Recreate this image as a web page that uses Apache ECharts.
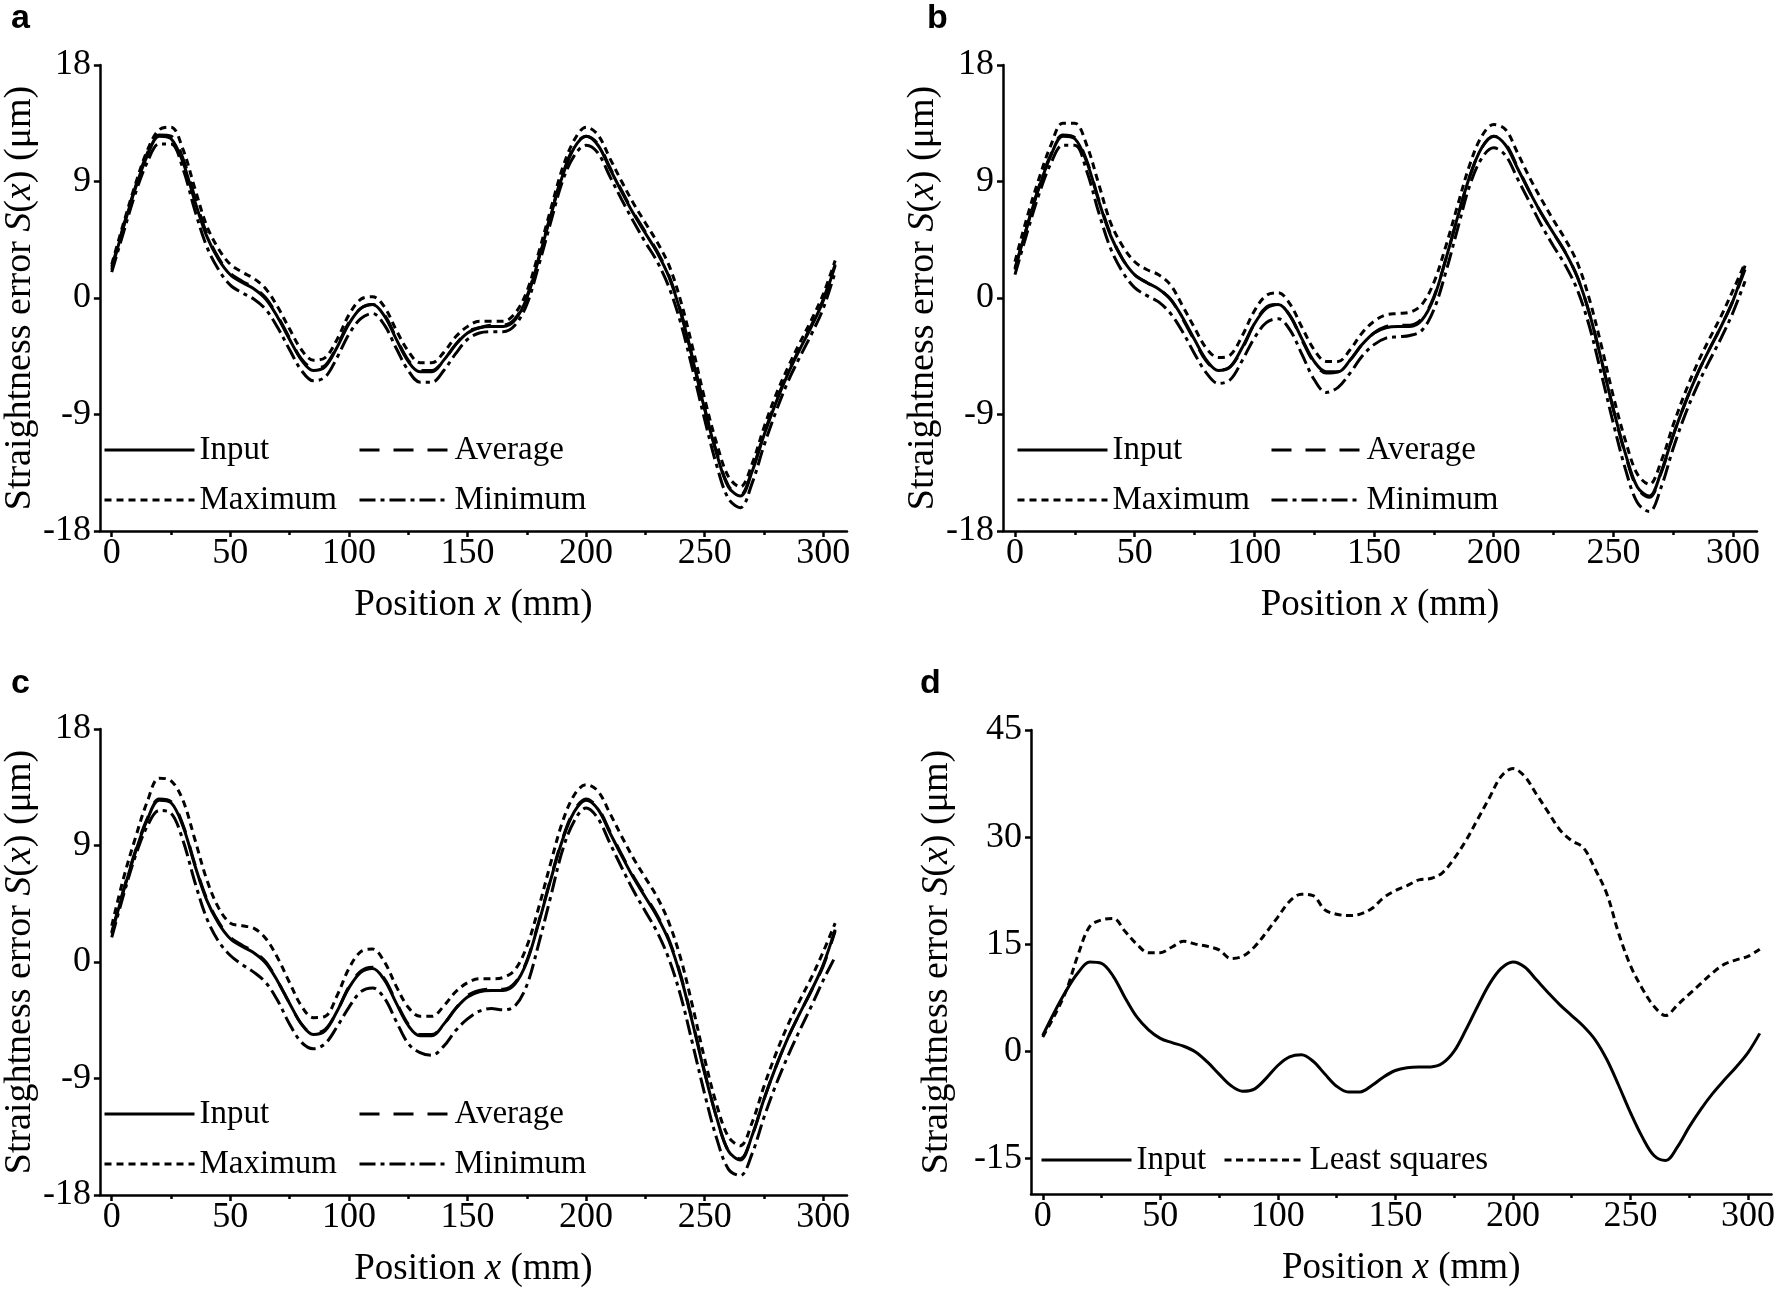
<!DOCTYPE html>
<html><head><meta charset="utf-8">
<script src="https://cdn.jsdelivr.net/npm/echarts@6/dist/echarts.min.js"></script>
<style>html,body{margin:0;padding:0;background:#fff}#c{width:1778px;height:1292px}</style>
</head><body><div id="c"></div>
<script>
// ---------------- data ----------------
const X_MM = [0,5,10,15,20,25,30,35,40,45,50,55,60,65,70,75,80,85,90,95,100,105,110,115,120,125,130,135,140,145,150,155,160,165,170,175,180,185,190,195,200,205,210,215,220,225,230,235,240,245,250,255,260,265,270,275,280,285,290,295,300,305];

const INPUT = [2.2,5.5,8.5,11.0,12.5,12.3,10.5,7.5,4.8,3.0, 1.8,1.2,0.7,-0.1,-1.5,-3.2,-4.8,-5.6,-5.3,-3.8, -2.0,-0.8,-0.5,-1.4,-3.2,-4.9,-5.7,-5.7,-4.8,-3.6, -2.7,-2.3,-2.2,-2.2,-1.7,0.0,3.0,6.3,9.4,11.6, 12.5,11.8,10.0,8.2,6.5,5.0,3.5,1.6,-1.2,-4.8, -8.6,-12.0,-14.6,-15.3,-13.4,-10.6,-8.1,-5.9,-4.0,-2.2, -0.2,2.5];

const A_AVG = [2.4,5.6,8.6,11.2,12.6,12.5,10.8,7.8,5.0,3.1, 1.9,1.3,0.8,0.0,-1.4,-3.1,-4.7,-5.4,-5.2,-3.7, -1.9,-0.8,-0.5,-1.3,-3.1,-4.8,-5.6,-5.6,-4.8,-3.6, -2.6,-2.3,-2.1,-2.1,-1.6,0.1,3.1,6.4,9.5,11.7, 12.5,11.9,10.1,8.3,6.6,5.1,3.6,1.7,-1.1,-4.7, -8.5,-11.9,-14.5,-15.2,-13.3,-10.5,-8.0,-5.8,-3.9,-2.1, -0.1,2.6];
const A_MAX = [2.6,5.8,8.8,11.4,13.0,13.2,11.5,8.5,5.6,3.8, 2.6,2.0,1.5,0.7,-0.7,-2.4,-4.0,-4.8,-4.6,-3.2, -1.3,-0.1,0.1,-0.7,-2.5,-4.1,-5.0,-5.0,-4.2,-3.0, -2.2,-1.8,-1.8,-1.8,-1.2,0.5,3.5,6.8,10.0,12.2, 13.2,12.6,10.8,9.0,7.3,5.8,4.3,2.5,-0.3,-3.9, -7.8,-11.2,-13.8,-14.6,-12.8,-10.0,-7.5,-5.4,-3.5,-1.7, 0.3,2.9];
const A_MIN = [2.0,5.1,8.1,10.5,11.9,11.9,10.0,6.8,4.0,2.2, 1.0,0.4,-0.1,-0.9,-2.3,-4.0,-5.6,-6.4,-6.1,-4.6, -2.8,-1.6,-1.2,-2.1,-3.9,-5.6,-6.5,-6.5,-5.6,-4.3, -3.2,-2.7,-2.6,-2.6,-2.1,-0.5,2.5,5.8,9.0,11.0, 11.8,11.2,9.4,7.6,5.9,4.3,2.8,0.8,-2.0,-5.6, -9.4,-12.9,-15.5,-16.2,-14.3,-11.4,-8.8,-6.5,-4.6,-2.8, -0.8,2.0];

const B_AVG = [2.3,5.5,8.6,11.1,12.6,12.4,10.6,7.6,4.9,3.0, 1.8,1.2,0.7,-0.1,-1.6,-3.3,-4.9,-5.6,-5.3,-3.9, -2.0,-0.7,-0.5,-1.4,-3.3,-5.0,-5.8,-5.7,-4.8,-3.6, -2.7,-2.2,-2.1,-2.1,-1.6,0.1,3.0,6.3,9.4,11.6, 12.5,11.9,10.1,8.2,6.5,5.0,3.5,1.6,-1.2,-4.8, -8.6,-12.1,-14.7,-15.4,-13.5,-10.6,-8.1,-5.9,-4.0,-2.2, -0.2,2.2];
const B_MAX = [2.8,6.2,9.2,11.8,13.5,13.5,11.8,8.8,5.8,4.0, 2.8,2.2,1.8,1.0,-0.6,-2.3,-3.9,-4.6,-4.4,-2.9, -1.0,0.2,0.4,-0.5,-2.3,-4.0,-4.9,-4.9,-4.0,-2.7, -1.8,-1.3,-1.2,-1.1,-0.5,1.2,4.0,7.2,10.3,12.5, 13.4,13.0,11.2,9.3,7.6,6.0,4.5,2.7,-0.1,-3.7, -7.6,-11.0,-13.6,-14.4,-12.6,-9.8,-7.3,-5.1,-3.2,-1.4, 0.6,2.7];
const B_MIN = [1.8,5.0,8.0,10.4,11.8,11.8,9.8,6.6,3.8,2.0, 0.8,0.2,-0.3,-1.2,-2.6,-4.3,-5.8,-6.6,-6.3,-4.8, -3.1,-1.9,-1.6,-2.5,-4.4,-6.3,-7.3,-6.9,-5.8,-4.5, -3.6,-3.1,-3.0,-2.9,-2.5,-0.9,2.0,5.4,8.7,10.8, 11.6,11.0,9.2,7.4,5.6,4.0,2.5,0.6,-2.2,-5.9, -9.7,-13.2,-15.8,-16.5,-14.6,-11.6,-9.0,-6.8,-4.9,-3.1, -1.1,1.3];

const C_AVG = [2.3,5.6,8.6,11.1,12.6,12.4,10.6,7.6,4.9,3.1, 1.9,1.3,0.8,0.0,-1.5,-3.2,-4.8,-5.5,-5.2,-3.8, -1.9,-0.7,-0.4,-1.3,-3.1,-4.8,-5.6,-5.6,-4.8,-3.6, -2.6,-2.2,-2.1,-2.1,-1.6,0.1,3.1,6.4,9.5,11.7, 12.6,11.9,10.1,8.3,6.6,5.1,3.6,1.7,-1.1,-4.7, -8.5,-12.0,-14.6,-15.2,-13.4,-10.6,-8.1,-5.9,-4.0,-2.2, -0.3,2.4];
const C_MAX = [2.8,6.5,9.6,12.4,14.2,14.0,12.5,9.5,6.4,4.2, 3.0,2.8,2.6,1.8,0.3,-1.6,-3.4,-4.3,-4.2,-2.6, -0.5,0.8,1.0,0.0,-1.9,-3.5,-4.2,-4.2,-3.4,-2.3, -1.6,-1.3,-1.3,-1.2,-0.6,1.2,4.2,7.6,10.8,12.9, 13.7,13.2,11.5,9.7,8.0,6.5,5.0,3.0,0.2,-3.5, -7.5,-11.0,-13.5,-14.2,-12.4,-9.6,-7.1,-4.9,-3.0,-1.2, 0.8,3.0];
const C_MIN = [1.9,5.2,8.2,10.5,11.7,11.5,9.4,6.2,3.4,1.6, 0.5,-0.2,-0.8,-1.6,-3.0,-4.8,-6.2,-6.7,-6.3,-5.0, -3.5,-2.3,-2.0,-2.8,-4.6,-6.3,-7.0,-7.2,-6.5,-5.3, -4.4,-3.8,-3.6,-3.7,-3.4,-1.8,1.4,5.0,8.6,10.9, 11.9,11.1,9.2,7.3,5.5,3.9,2.3,0.2,-2.7,-6.4, -10.2,-13.6,-16.0,-16.5,-14.8,-12.0,-9.5,-7.3,-5.3,-3.4, -1.4,0.4];

const D_LSQ = [2.0,5.0,8.5,13.5,17.5,18.4,18.6,16.8,15.0,13.8, 13.8,14.6,15.4,15.0,14.7,14.2,13.0,13.3,14.6,16.6, 18.8,21.0,22.0,21.8,19.8,19.2,19.0,19.2,20.0,21.5, 22.5,23.2,24.0,24.2,25.0,27.0,29.5,32.5,35.5,38.5, 39.6,38.5,36.0,33.5,31.0,29.5,28.5,25.5,22.0,16.5, 12.0,8.8,6.3,5.0,6.5,8.0,9.5,11.0,12.2,12.8, 13.3,14.3];

const X_TICKS = [0,50,100,150,200,250,300];
const X_MINOR_TICKS = [25,75,125,175,225,275];
const Y_TICKS_ABC = [-18,-9,0,9,18];
const Y_TICKS_D = [-15,0,15,30,45];
const PANEL_LETTERS = ['a','b','c','d'];
const X_TITLE = 'Position {i|x} (mm)';
const Y_TITLE = 'Straightness error {i|S}({i|x}) (μm)';

// ---------------- styles ----------------
const SERIF = '"Liberation Serif", "Times New Roman", serif';
const BLACK = '#000';
const LINE_TYPE = {
  'Input': 'solid',
  'Average': [20, 14],
  'Maximum': [7, 5],
  'Minimum': [16, 5, 4, 5],
  'Least squares': [7, 4.5]
};

const panels = [
  { letter: PANEL_LETTERS[0], left: 93, top: 65, width: 754, height: 466, ymin: -18, ymax: 18, yticks: Y_TICKS_ABC, yGap: 48,
    series: [['Input', INPUT], ['Average', A_AVG], ['Maximum', A_MAX], ['Minimum', A_MIN]],
    lx: 11, ly: 2,
    legend: [['Input', 103, 450], ['Average', 358, 450], ['Maximum', 103, 500], ['Minimum', 358, 500]] },
  { letter: PANEL_LETTERS[1], left: 1003, top: 65, width: 754, height: 466, ymin: -18, ymax: 18, yticks: Y_TICKS_ABC, yGap: 48,
    series: [['Input', INPUT], ['Average', B_AVG], ['Maximum', B_MAX], ['Minimum', B_MIN]],
    lx: 927, ly: 2,
    legend: [['Input', 1016, 450], ['Average', 1270, 450], ['Maximum', 1016, 500], ['Minimum', 1270, 500]] },
  { letter: PANEL_LETTERS[2], left: 93, top: 729, width: 754, height: 466, ymin: -18, ymax: 18, yticks: Y_TICKS_ABC, yGap: 48,
    series: [['Input', INPUT], ['Average', C_AVG], ['Maximum', C_MAX], ['Minimum', C_MIN]],
    lx: 11, ly: 667,
    legend: [['Input', 103, 1114], ['Average', 358, 1114], ['Maximum', 103, 1164], ['Minimum', 358, 1164]] },
  { letter: PANEL_LETTERS[3], left: 1031, top: 730, width: 743, height: 464, ymin: -20, ymax: 45, yticks: Y_TICKS_D, yGap: 75,
    series: [['Input', INPUT], ['Least squares', D_LSQ]],
    lx: 920, ly: 667,
    legend: [['Input', 1040, 1160], ['Least squares', 1223, 1160]] }
];

const grid = [], xAxis = [], yAxis = [], series = [], legend = [], graphic = [];
const labelStyle = { fontFamily: SERIF, fontSize: 36, color: BLACK };
const xNameStyle = { fontFamily: SERIF, fontSize: 37, color: BLACK,
  rich: { i: { fontFamily: SERIF, fontSize: 37, fontStyle: 'italic', color: BLACK } } };
const yNameStyle = { fontFamily: SERIF, fontSize: 38, color: BLACK,
  rich: { i: { fontFamily: SERIF, fontSize: 38, fontStyle: 'italic', color: BLACK } } };

panels.forEach((p, k) => {
  grid.push({ left: p.left, top: p.top, width: p.width, height: p.height, containLabel: false });
  xAxis.push({
    gridIndex: k, type: 'value', min: -5, max: 310, position: 'bottom',
    axisLine: { show: true, onZero: false, lineStyle: { color: BLACK, width: 2.5 } },
    axisTick: { show: true, inside: false, length: 6, customValues: X_TICKS, lineStyle: { color: BLACK, width: 2.5 } },
    axisLabel: { ...labelStyle, margin: 5, customValues: X_TICKS, showMinLabel: true, showMaxLabel: true },
    splitLine: { show: false },
    name: X_TITLE, nameLocation: 'middle', nameGap: 56, nameTextStyle: xNameStyle
  });
  xAxis.push({
    gridIndex: k, type: 'value', min: -5, max: 310, position: 'bottom',
    axisLine: { show: false, onZero: false },
    axisTick: { show: true, inside: false, length: 4, customValues: X_MINOR_TICKS, lineStyle: { color: BLACK, width: 2.5 } },
    axisLabel: { show: false },
    splitLine: { show: false }
  });
  yAxis.push({
    gridIndex: k, type: 'value', min: p.ymin, max: p.ymax,
    axisLine: { show: true, onZero: false, lineStyle: { color: BLACK, width: 2.5 } },
    axisTick: { show: true, inside: false, length: 6, customValues: p.yticks, lineStyle: { color: BLACK, width: 2.5 } },
    axisLabel: { ...labelStyle, margin: 9, customValues: p.yticks, showMinLabel: true, showMaxLabel: true },
    splitLine: { show: false },
    name: Y_TITLE, nameLocation: 'middle', nameRotate: 90, nameGap: p.yGap, nameTextStyle: yNameStyle
  });
  p.series.forEach(([name, vals]) => {
    series.push({
      type: 'line', name, xAxisIndex: 2 * k, yAxisIndex: k,
      data: X_MM.map((x, i) => [x, vals[i]]),
      smooth: 0.35, symbol: 'circle', symbolSize: 0, showSymbol: false,
      lineStyle: { color: BLACK, width: 3, type: LINE_TYPE[name] },
      itemStyle: { color: BLACK },
      silent: true, z: name === 'Input' ? 5 : 3
    });
  });
  p.legend.forEach(([name, x, y]) => {
    legend.push({
      left: x, top: y - 17, padding: 0, orient: 'horizontal',
      itemWidth: name === 'Least squares' ? 80 : 90, itemHeight: 4, itemGap: 0,
      data: [name], selectedMode: false,
      textStyle: { fontFamily: SERIF, fontSize: 33, color: BLACK, lineHeight: 34 },
      itemStyle: { color: 'rgba(0,0,0,0)', borderWidth: 0, opacity: 0 },
      lineStyle: { width: 3, color: BLACK }
    });
  });
  graphic.push({
    type: 'text', left: p.lx, top: p.ly,
    style: { text: p.letter, fill: BLACK, font: 'bold 34px "Liberation Sans"' }
  });
});

const chart = echarts.init(document.getElementById('c'), null, { renderer: 'canvas' });
chart.setOption({
  backgroundColor: '#fff',
  animation: false,
  grid, xAxis, yAxis, series, legend, graphic
});
</script>
</body></html>
